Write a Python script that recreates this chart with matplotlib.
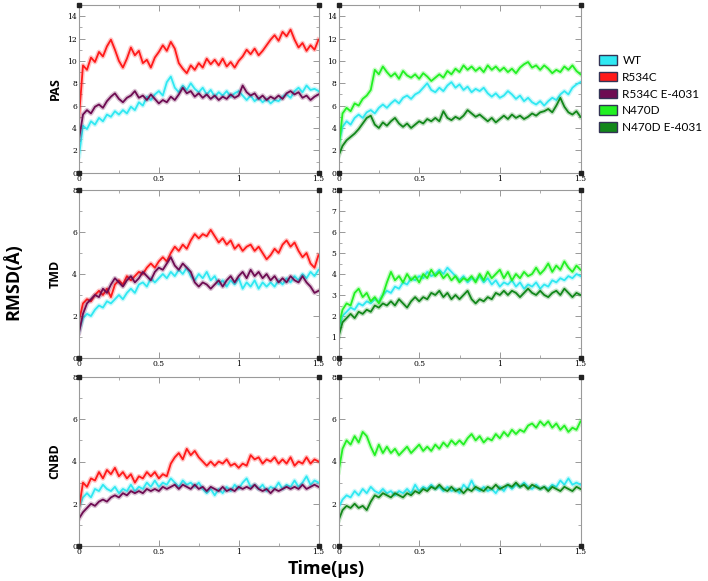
import numpy as np
import matplotlib
matplotlib.use("Agg")
import matplotlib.pyplot as plt
from matplotlib.patches import Patch
from matplotlib.ticker import MultipleLocator

# time axis (microseconds), 61 samples from 0 to 1.5
time_us = np.linspace(0, 1.5, 61)

# ---- PAS ----
pas_wt_l = [1.5, 4.2, 3.9, 4.6, 4.3, 4.9, 4.6, 5.2, 5.0, 5.5, 5.2, 5.6, 5.3, 5.9, 5.6, 6.3, 6.0, 6.8, 6.5, 7.0,
            7.3, 6.9, 8.1, 8.6, 7.6, 7.2, 7.8, 7.4, 8.0, 7.5, 7.2, 7.6, 7.0, 7.4, 6.8, 7.2, 6.9, 7.3, 6.8, 7.1,
            7.3, 6.9, 6.5, 6.9, 6.4, 6.7, 6.3, 6.6, 6.2, 6.5, 6.4, 6.8, 7.0, 6.7, 7.3, 7.6, 7.2, 7.8, 7.4, 7.5, 7.3]
pas_r534c = [5.0, 9.6, 9.2, 10.3, 9.9, 10.8, 10.4, 11.3, 11.9, 11.0, 10.0, 9.4, 10.2, 11.2, 10.5, 10.9, 9.8, 10.1,
             9.4, 10.3, 10.8, 11.4, 10.9, 11.7, 11.1, 9.8, 9.3, 8.9, 9.6, 9.2, 9.8, 9.4, 10.2, 9.7, 10.1, 9.6,
             10.2, 9.5, 9.9, 9.4, 10.0, 10.4, 11.0, 10.6, 11.1, 10.5, 10.9, 11.4, 11.9, 12.3, 11.8, 12.6, 12.2,
             12.8, 11.9, 11.2, 11.6, 10.9, 11.4, 11.0, 11.9]
pas_r534c_e = [3.0, 5.2, 5.6, 5.3, 5.9, 6.1, 5.8, 6.4, 6.8, 7.1, 6.6, 6.3, 6.7, 6.9, 7.3, 6.7, 6.9, 6.5, 7.0, 6.6,
               6.2, 6.5, 6.3, 6.8, 6.5, 7.0, 7.6, 7.1, 7.3, 6.8, 7.1, 6.7, 7.0, 6.6, 6.9, 6.5, 6.8, 6.6, 7.0, 6.7,
               6.9, 7.8, 7.2, 6.9, 7.1, 6.6, 6.9, 6.5, 6.8, 6.6, 6.9, 6.6, 7.1, 7.3, 7.0, 7.2, 6.7, 6.9, 6.5, 6.8, 7.0]
pas_wt_r = [2.5, 4.1, 4.6, 4.3, 4.9, 5.2, 4.9, 5.4, 5.6, 5.3, 5.8, 6.1, 5.8, 6.2, 6.5, 6.2, 6.7, 6.9, 6.6, 7.0,
            7.2, 7.6, 8.0, 7.4, 7.2, 7.6, 7.3, 7.8, 8.1, 7.6, 7.9, 7.4, 7.7, 7.2, 7.5, 7.3, 7.6, 7.1, 6.8, 7.1,
            6.7, 6.9, 7.3, 7.0, 6.6, 6.9, 6.4, 6.7, 6.3, 6.1, 6.4, 6.0, 6.4, 6.7, 6.5, 7.0, 7.3, 7.0, 7.6, 7.9, 8.1]
pas_n470d = [2.0, 5.3, 5.8, 5.5, 6.2, 6.0, 6.6, 6.9, 7.4, 9.2, 8.8, 9.5, 9.0, 8.6, 8.9, 8.4, 9.1, 8.7, 8.5, 8.8,
             8.4, 8.9, 8.6, 8.2, 8.5, 8.8, 8.5, 9.1, 8.8, 9.3, 9.0, 9.6, 9.2, 9.5, 9.1, 9.4, 9.0, 9.6, 9.2, 9.5,
             9.1, 9.4, 9.0, 9.3, 8.9, 9.4, 9.7, 9.9, 9.4, 9.6, 9.2, 9.6, 9.3, 8.9, 9.2, 9.0, 9.5, 9.2, 9.6, 9.1, 8.8]
pas_n470d_e = [1.5, 2.4, 2.9, 3.2, 3.5, 3.9, 4.4, 4.9, 5.1, 4.3, 4.0, 4.5, 4.2, 4.6, 4.9, 4.4, 4.1, 4.4, 4.0, 4.3,
               4.6, 4.4, 4.8, 4.6, 4.9, 4.6, 5.5, 4.9, 4.7, 5.0, 4.8, 5.1, 5.6, 5.3, 5.0, 5.2, 4.9, 4.6, 4.9, 4.5,
               4.8, 5.1, 4.8, 5.2, 4.9, 5.1, 4.8, 5.0, 5.3, 5.1, 5.4, 5.5, 5.7, 5.4, 6.0, 6.7, 5.9, 5.4, 5.2, 5.5, 5.0]

# ---- TMD ----
tmd_wt_l = [1.3, 1.9, 2.1, 2.0, 2.3, 2.5, 2.4, 2.7, 2.6, 2.8, 3.0, 2.8, 3.1, 3.3, 3.1, 3.5, 3.6, 3.4, 3.8, 3.6,
            3.8, 4.0, 3.8, 4.1, 3.9, 4.2, 4.0, 4.3, 3.9, 3.7, 4.0, 3.8, 4.1, 3.7, 3.9, 3.5, 3.7, 3.4, 3.7, 3.5,
            3.8, 3.3, 3.6, 3.4, 3.7, 3.3, 3.6, 3.4, 3.6, 3.4, 3.7, 3.5, 3.8, 3.6, 3.9, 3.7, 4.0, 3.8, 4.1, 3.9, 4.2]
tmd_r534c = [1.8, 2.6, 2.8, 2.7, 3.0, 3.2, 3.0, 3.3, 2.9, 3.5, 3.7, 3.5, 3.9, 3.7, 3.9, 4.1, 4.0, 4.3, 4.5, 4.3,
             4.6, 4.8, 4.6, 5.0, 5.3, 5.1, 5.4, 5.2, 5.6, 5.9, 5.7, 5.9, 5.8, 6.1, 5.8, 5.5, 5.7, 5.4, 5.6, 5.2,
             5.4, 5.1, 5.3, 5.4, 5.1, 5.3, 5.0, 4.7, 4.9, 5.2, 5.0, 5.4, 5.6, 5.3, 5.5, 5.1, 4.8, 5.0, 4.5, 4.3, 4.9]
tmd_r534c_e = [1.2, 2.1, 2.6, 2.8, 3.0, 2.9, 3.3, 3.1, 3.5, 3.8, 3.6, 3.4, 3.7, 3.9, 3.6, 3.8, 4.1, 3.9, 3.7, 4.1,
               4.3, 4.2, 4.5, 4.8, 4.4, 4.2, 4.5, 4.3, 4.1, 3.6, 3.4, 3.6, 3.5, 3.3, 3.5, 3.7, 3.4, 3.7, 3.9, 3.6,
               3.9, 4.1, 3.8, 4.2, 3.9, 4.1, 3.8, 4.0, 3.7, 3.9, 3.6, 3.8, 3.6, 3.9, 3.7, 3.6, 3.9, 3.6, 3.4, 3.1, 3.2]
tmd_wt_r = [1.4, 2.0, 2.2, 2.4, 2.3, 2.6, 2.5, 2.7, 2.6, 2.8, 2.7, 3.0, 3.2, 3.1, 3.4, 3.3, 3.6, 3.5, 3.8, 3.7,
            3.9, 3.8, 4.1, 3.9, 4.0, 4.2, 4.0, 4.3, 4.1, 3.9, 3.7, 3.9, 3.6, 3.8, 3.7, 3.9, 3.6, 3.8, 3.5, 3.7,
            3.4, 3.6, 3.5, 3.7, 3.4, 3.6, 3.3, 3.5, 3.4, 3.6, 3.3, 3.5, 3.4, 3.7, 3.6, 3.8, 3.7, 3.9, 3.8, 4.0, 3.9]
tmd_n470d = [1.5, 2.3, 2.6, 2.5, 3.1, 3.3, 2.9, 3.1, 2.7, 2.9, 2.6, 3.0, 3.6, 4.1, 3.7, 3.9, 3.6, 4.0, 3.7, 3.9,
             3.6, 4.0, 3.8, 4.2, 3.9, 4.1, 3.8, 4.0, 3.7, 3.9, 3.6, 3.8, 3.7, 3.9, 3.6, 4.0, 3.7, 4.1, 3.8, 4.0,
             4.2, 3.8, 4.1, 3.7, 4.0, 3.8, 4.1, 3.9, 4.0, 4.3, 4.0, 4.2, 4.5, 4.1, 4.4, 4.2, 4.6, 4.3, 4.1, 4.4, 4.2]
tmd_n470d_e = [1.0, 1.7, 1.9, 2.1, 1.9, 2.2, 2.1, 2.3, 2.2, 2.5, 2.4, 2.6, 2.5, 2.7, 2.5, 2.8, 2.6, 2.4, 2.7, 2.9,
               2.7, 2.9, 2.8, 3.1, 3.0, 3.2, 2.9, 3.1, 2.8, 3.0, 2.8, 3.0, 3.2, 2.8, 2.6, 2.8, 2.7, 2.9, 2.8, 3.1,
               3.0, 3.2, 3.0, 3.2, 3.1, 2.9, 3.1, 3.3, 3.1, 3.0, 3.2, 3.0, 2.9, 3.1, 3.2, 3.0, 3.3, 3.1, 2.9, 3.1, 3.0]

# ---- CNBD ----
cnbd_wt_l = [1.8, 2.3, 2.5, 2.3, 2.7, 2.6, 2.9, 2.7, 2.6, 2.8, 2.5, 2.7, 2.6, 2.9, 2.6, 2.8, 2.7, 3.0, 2.8, 3.1,
             2.8, 3.0, 2.9, 3.2, 3.0, 2.8, 3.1, 2.9, 3.0, 2.8, 3.0, 2.7, 2.5, 2.7, 2.4, 2.7, 2.5, 2.8, 2.6, 2.9,
             2.7, 3.0, 3.2, 2.8, 2.9, 2.7, 2.9, 2.6, 2.8, 2.7, 3.0, 2.7, 2.9, 2.8, 3.1, 2.8, 3.0, 3.3, 2.9, 3.1, 3.0]
cnbd_r534c = [1.8, 3.0, 2.8, 3.2, 3.1, 3.5, 3.2, 3.6, 3.4, 3.7, 3.3, 3.5, 3.2, 3.4, 3.0, 3.3, 3.2, 3.5, 3.3, 3.5,
              3.2, 3.4, 3.3, 3.9, 4.2, 4.4, 4.1, 4.6, 4.3, 4.5, 4.2, 4.0, 3.8, 4.0, 3.8, 4.0, 3.9, 4.1, 3.8, 3.9,
              3.7, 3.9, 3.8, 4.3, 4.1, 4.2, 3.9, 4.1, 4.0, 4.2, 3.9, 4.1, 3.9, 4.2, 3.8, 4.0, 3.9, 4.2, 3.9, 4.1, 4.0]
cnbd_r534c_e = [1.3, 1.6, 1.8, 2.0, 1.9, 2.1, 2.2, 2.1, 2.3, 2.4, 2.3, 2.5, 2.4, 2.6, 2.5, 2.6, 2.5, 2.7, 2.6, 2.7,
                2.6, 2.8, 2.7, 2.8, 2.9, 2.7, 2.9, 2.8, 2.7, 2.9, 2.7, 2.8, 2.6, 2.8, 2.7, 2.6, 2.8, 2.6, 2.7, 2.6,
                2.8, 2.7, 2.8, 2.7, 2.9, 2.7, 2.6, 2.7, 2.5, 2.7, 2.6, 2.7, 2.8, 2.7, 2.8, 2.7, 2.9, 2.7, 2.8, 2.9, 2.8]
cnbd_wt_r = [1.8, 2.2, 2.4, 2.3, 2.6, 2.4, 2.7, 2.5, 2.8, 2.6, 2.5, 2.7, 2.5, 2.6, 2.4, 2.6, 2.5, 2.7, 2.5, 2.9,
             2.6, 2.8, 2.7, 2.9, 2.7, 2.8, 2.6, 2.8, 2.6, 2.7, 2.5, 2.9, 2.7, 3.1, 2.7, 2.6, 2.8, 2.6, 2.7, 2.5,
             2.8, 2.6, 2.9, 2.7, 2.9, 2.8, 3.0, 2.8, 2.7, 2.9, 2.7, 2.8, 2.7, 2.9, 2.8, 3.1, 2.9, 3.2, 2.9, 3.0, 2.9]
cnbd_n470d = [3.5, 4.6, 5.0, 4.8, 5.2, 4.9, 5.4, 5.2, 4.7, 4.3, 4.8, 4.4, 4.7, 4.4, 4.6, 4.3, 4.5, 4.7, 4.4, 4.6,
              4.8, 4.5, 4.7, 4.5, 4.8, 4.6, 4.9, 4.7, 5.0, 4.8, 5.0, 4.8, 5.1, 5.3, 5.0, 5.2, 4.9, 5.1, 5.0, 5.3,
              5.1, 5.4, 5.2, 5.5, 5.3, 5.5, 5.4, 5.7, 5.8, 5.6, 5.9, 5.7, 5.9, 5.6, 5.8, 5.5, 5.7, 5.4, 5.6, 5.5, 5.9]
cnbd_n470d_e = [1.2, 1.7, 1.9, 1.8, 2.0, 1.8, 1.9, 1.7, 2.1, 2.4, 2.3, 2.5, 2.4, 2.3, 2.5, 2.4, 2.3, 2.5, 2.4, 2.6,
                2.5, 2.7, 2.6, 2.8, 2.7, 2.9, 2.7, 2.6, 2.8, 2.6, 2.7, 2.5, 2.7, 2.6, 2.8, 2.7, 2.6, 2.8, 2.7, 2.9,
                2.7, 2.8, 2.9, 2.8, 3.0, 2.8, 2.9, 2.7, 2.9, 2.8, 2.7, 2.8, 2.6, 2.8, 2.7, 2.6, 2.8, 2.7, 2.6, 2.8, 2.7]

domains = ["PAS", "TMD", "CNBD"]
legend_labels = ["WT", "R534C", "R534C E-4031", "N470D", "N470D E-4031"]
colors = {"WT": "#2fe8f2", "R534C": "#ff1a1a", "R534C E-4031": "#6e0c52",
          "N470D": "#22f022", "N470D E-4031": "#12871a"}

left_series = [
    [("WT", pas_wt_l), ("R534C", pas_r534c), ("R534C E-4031", pas_r534c_e)],
    [("WT", tmd_wt_l), ("R534C", tmd_r534c), ("R534C E-4031", tmd_r534c_e)],
    [("WT", cnbd_wt_l), ("R534C", cnbd_r534c), ("R534C E-4031", cnbd_r534c_e)],
]
right_series = [
    [("WT", pas_wt_r), ("N470D", pas_n470d), ("N470D E-4031", pas_n470d_e)],
    [("WT", tmd_wt_r), ("N470D", tmd_n470d), ("N470D E-4031", tmd_n470d_e)],
    [("WT", cnbd_wt_r), ("N470D", cnbd_n470d), ("N470D E-4031", cnbd_n470d_e)],
]
ylims = [15, 8, 8]
left_major = [2, 2, 2]
right_major = [2, 1, 2]

fig = plt.figure(figsize=(7.08, 5.81), dpi=100)
W, H = 708.0, 581.0
rows_px = [(5, 172.7), (190, 358), (377, 546)]
cols_px = [(79, 318.5), (338.5, 580.5)]


def style_axes(ax, ymax, major):
    ax.set_xlim(0, 1.5)
    ax.set_ylim(0, ymax)
    ax.xaxis.set_major_locator(MultipleLocator(0.5))
    ax.xaxis.set_minor_locator(MultipleLocator(0.25))
    ax.yaxis.set_major_locator(MultipleLocator(major))
    ax.yaxis.set_minor_locator(MultipleLocator(major / 2.0))
    ax.set_xticks([0, 0.5, 1, 1.5])
    ax.set_xticklabels(["0", "0.5", "1", "1.5"])
    ax.tick_params(which="both", direction="in", top=True, right=True,
                   color="#888888", labelsize=5.5, pad=1.5)
    ax.tick_params(which="major", length=4, width=0.6)
    ax.tick_params(which="minor", length=2, width=0.5)
    for lab in ax.get_xticklabels() + ax.get_yticklabels():
        lab.set_family("DejaVu Serif")
    for sp in ax.spines.values():
        sp.set_color("#9a9a9a")
        sp.set_linewidth(0.8)
    # xmgrace-like corner markers
    ax.plot([0, 1, 0, 1], [0, 0, 1, 1], "s", ms=2.5, color="#222222",
            transform=ax.transAxes, clip_on=False, zorder=5)


for r in range(3):
    y0, y1 = rows_px[r]
    for c, series in enumerate([left_series[r], right_series[r]]):
        x0, x1 = cols_px[c]
        ax = fig.add_axes([x0 / W, 1 - y1 / H, (x1 - x0) / W, (y1 - y0) / H])
        for name, vals in series:
            ax.plot(time_us, vals, color=colors[name], lw=3.4, alpha=0.25)
            ax.plot(time_us, vals, color=colors[name], lw=1.3)
        style_axes(ax, ylims[r], left_major[r] if c == 0 else right_major[r])
    yc = 1 - (y0 + y1) / 2 / H
    fig.text(55 / W, yc, domains[r], rotation=90, ha="center", va="center",
             fontsize=9, fontweight="bold", family="Open Sans")

fig.text(13 / W, 1 - 282 / H, "RMSD(Å)", rotation=90, ha="center", va="center",
         fontsize=13, fontweight="bold", family="Open Sans")
fig.text(326 / W, 1 - 569 / H, "Time(μs)", ha="center", va="center",
         fontsize=13, fontweight="bold", family="Open Sans")

handles = [Patch(facecolor=colors[n], edgecolor="#333355", linewidth=1.0) for n in legend_labels]
fig.legend(handles, legend_labels, loc="upper left", bbox_to_anchor=(594 / W, 1 - 50 / H),
           frameon=False, prop={"family": "Lato", "size": 8.5}, handlelength=1.55,
           handleheight=0.9, handletextpad=0.45, labelspacing=0.5, borderaxespad=0)

fig.savefig("out.png", dpi=100)
